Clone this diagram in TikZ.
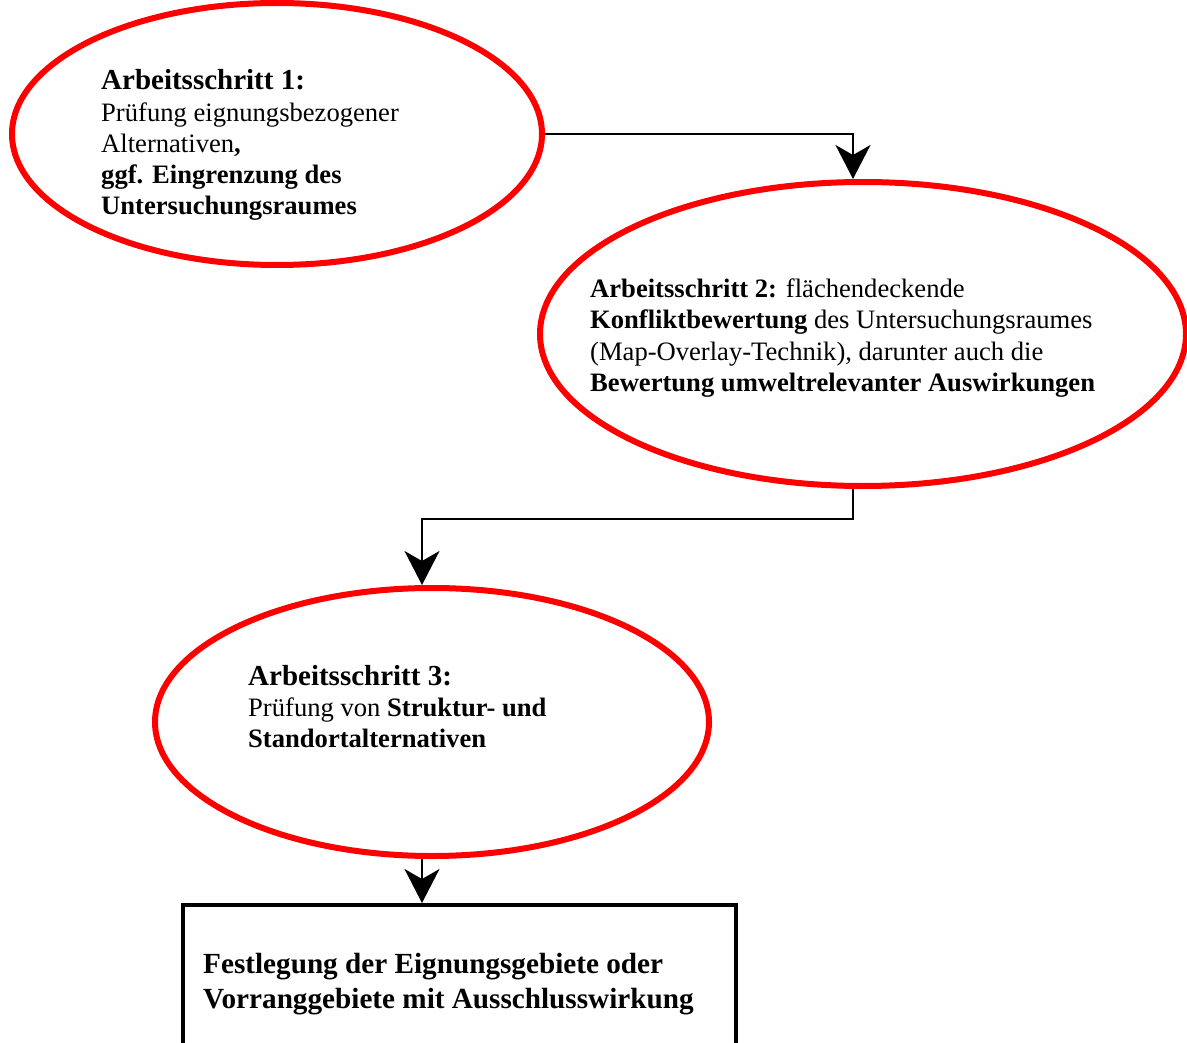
\documentclass[tikz,border=0pt]{standalone}
\usepackage{fontspec}
\setmainfont{Liberation Serif}
\usetikzlibrary{shapes.geometric,arrows.meta}
\begin{document}
\begin{tikzpicture}[x=1pt,y=-1pt,
  stage/.style={ellipse,draw=red,line width=6pt,inner sep=0pt},
  goalbox/.style={rectangle,draw=black,line width=4pt,inner sep=0pt},
  label/.style={anchor=base west,inner sep=0pt,align=left,font=\fontsize{26.6}{31}\selectfont},
  head/.style={font=\fontsize{29}{31}\selectfont\bfseries},
  flow/.style={draw=black,line width=2pt,-{Stealth[length=34pt,width=35pt,inset=10pt]}}]
\useasboundingbox (0,0) rectangle (1187,1043);

% working steps
\node[stage,minimum width=530pt,minimum height=262pt] (s1) at (277,134) {};
\node[stage,minimum width=646pt,minimum height=304pt] (s2) at (863,334) {};
\node[stage,minimum width=554pt,minimum height=268pt] (s3) at (432,722) {};

% final result (runs past the lower edge)
\coordinate (bTL) at (181,903);
\node[goalbox,minimum width=553pt,minimum height=177pt,anchor=north west] (res) at (bTL) {};

% texts
\node[label,head] (t1) at (101,90) {Arbeitsschritt 1:};
\node[label] (t1b) at (101,122) {Prüfung eignungsbezogener};
\node[label] (t1c) at (101,153) {Alternativen\textbf{,}};
\node[label] (t1d) at (101,184) {\textbf{ggf. Eingrenzung des}};
\node[label] (t1e) at (101,215) {\textbf{Untersuchungsraumes}};

\node[label] (t2) at (590,298) {\textbf{Arbeitsschritt 2:} flächendeckende};
\node[label] (t2b) at (590,329) {\textbf{Konfliktbewertung} des Untersuchungsraumes};
\node[label] (t2c) at (590,360) {(Map-Overlay-Technik), darunter auch die};
\node[label] (t2d) at (590,391) {\textbf{Bewertung umweltrelevanter Auswirkungen}};

\node[label,head] (t3) at (248,685) {Arbeitsschritt 3:};
\node[label] (t3b) at (248,716) {Prüfung von \textbf{Struktur- und}};
\node[label] (t3c) at (248,747) {\textbf{Standortalternativen}};

\node[label,font=\fontsize{29.2}{35}\selectfont\bfseries] (t4) at (203,973) {Festlegung der Eignungsgebiete oder};
\node[label,font=\fontsize{29.2}{35}\selectfont\bfseries] (t4b) at (203,1008) {Vorranggebiete mit Ausschlusswirkung};

% connectors
\draw[flow] (s1.east) -| ([xshift=-10pt]s2.north);
\draw[flow] ([xshift=-10pt]s2.south) -- ++(0,30) -| ([xshift=-10pt]s3.north);
\draw[flow] ([xshift=-10pt]s3.south) -- ([xshift=-10pt]s3.south |- res.north);
\end{tikzpicture}
\end{document}
